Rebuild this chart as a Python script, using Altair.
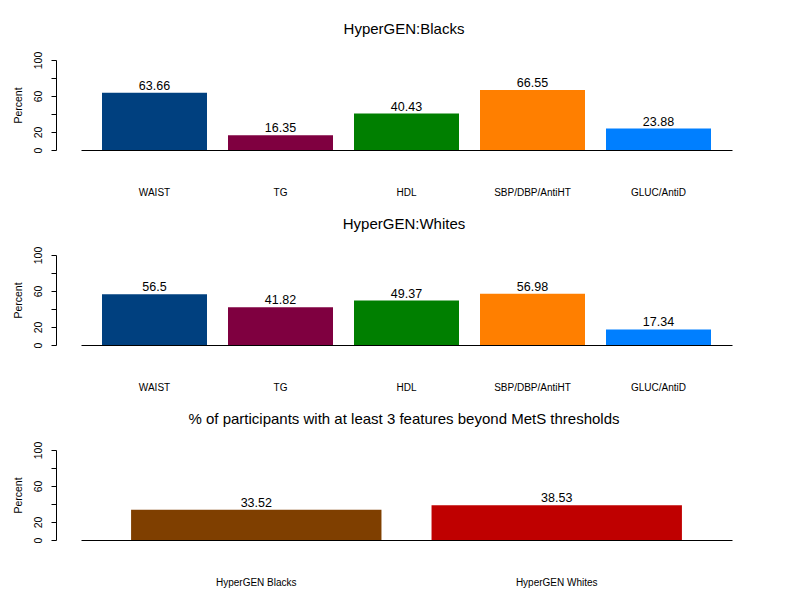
import altair as alt
import pandas as pd

features = ["WAIST", "TG", "HDL", "SBP/DBP/AntiHT", "GLUC/AntiD"]
blacks = [63.66, 16.35, 40.43, 66.55, 23.88]
whites = [56.5, 41.82, 49.37, 56.98, 17.34]
feature_colors = ["#00407F", "#7F0040", "#007F00", "#FF7F00", "#007FFF"]

groups = ["HyperGEN Blacks", "HyperGEN Whites"]
mets = [33.52, 38.53]
group_colors = ["#7F3F00", "#BF0000"]

y_ticks = [0, 20, 40, 60, 80, 100]

FONT = "Liberation Sans"


def panel(title, cats, vals, colors):
    df = pd.DataFrame({"cat": cats, "val": vals, "label": [str(v) for v in vals]})
    x = alt.X(
        "cat:N",
        sort=cats,
        scale=alt.Scale(paddingInner=1 / 6, paddingOuter=1 / 6),
        axis=alt.Axis(
            title=None, labelAngle=0, ticks=False, domainColor="black", domainWidth=1,
            labelPadding=37, labelFontSize=10, labelColor="black", labelFont=FONT,
            labelLimit=0,
        ),
    )
    y = alt.Y(
        "val:Q",
        scale=alt.Scale(domain=[0, 100], nice=False, zero=True),
        axis=alt.Axis(
            title="Percent", values=y_ticks,
            labelExpr="(datum.value == 40 || datum.value == 80) ? '' : datum.label",
            offset=25, grid=False, tickSize=5, tickColor="black", domainColor="black",
            labelAngle=270, labelAlign="center", labelBaseline="bottom", labelPadding=8,
            labelFontSize=10.5, labelColor="black", labelFont=FONT,
            titleFont=FONT, titleFontSize=10.5, titleFontWeight="normal",
            titleColor="black", titlePadding=10,
        ),
    )
    base = alt.Chart(df)
    bars = base.mark_bar().encode(
        x=x, y=y,
        color=alt.Color("cat:N", scale=alt.Scale(domain=cats, range=colors), legend=None),
    )
    text = base.mark_text(dy=-3, baseline="alphabetic", fontSize=12.5, font=FONT, color="black").encode(
        x=x, y=y, text="label:N"
    )
    return alt.layer(bars, text).properties(
        width=651, height=90,
        title=alt.TitleParams(
            title, anchor="middle", frame="group", offset=2, baseline="alphabetic",
            fontSize=15, fontWeight="normal", font=FONT, color="black", dx=-2.5,
        ),
    )


p1 = panel("HyperGEN:Blacks", features, blacks, feature_colors)
p2 = panel("HyperGEN:Whites", features, whites, feature_colors)
p3 = panel("% of participants with at least 3 features beyond MetS thresholds", groups, mets, group_colors)

chart = (
    alt.vconcat(p1, p2, p3, spacing=105, bounds="flush")
    .resolve_scale(color="independent")
    .configure(padding={"left": 5, "top": 14, "right": 5, "bottom": 5})
    .configure_view(stroke=None)
)

chart.save("out.html", embed_options={"renderer": "svg", "actions": False})
